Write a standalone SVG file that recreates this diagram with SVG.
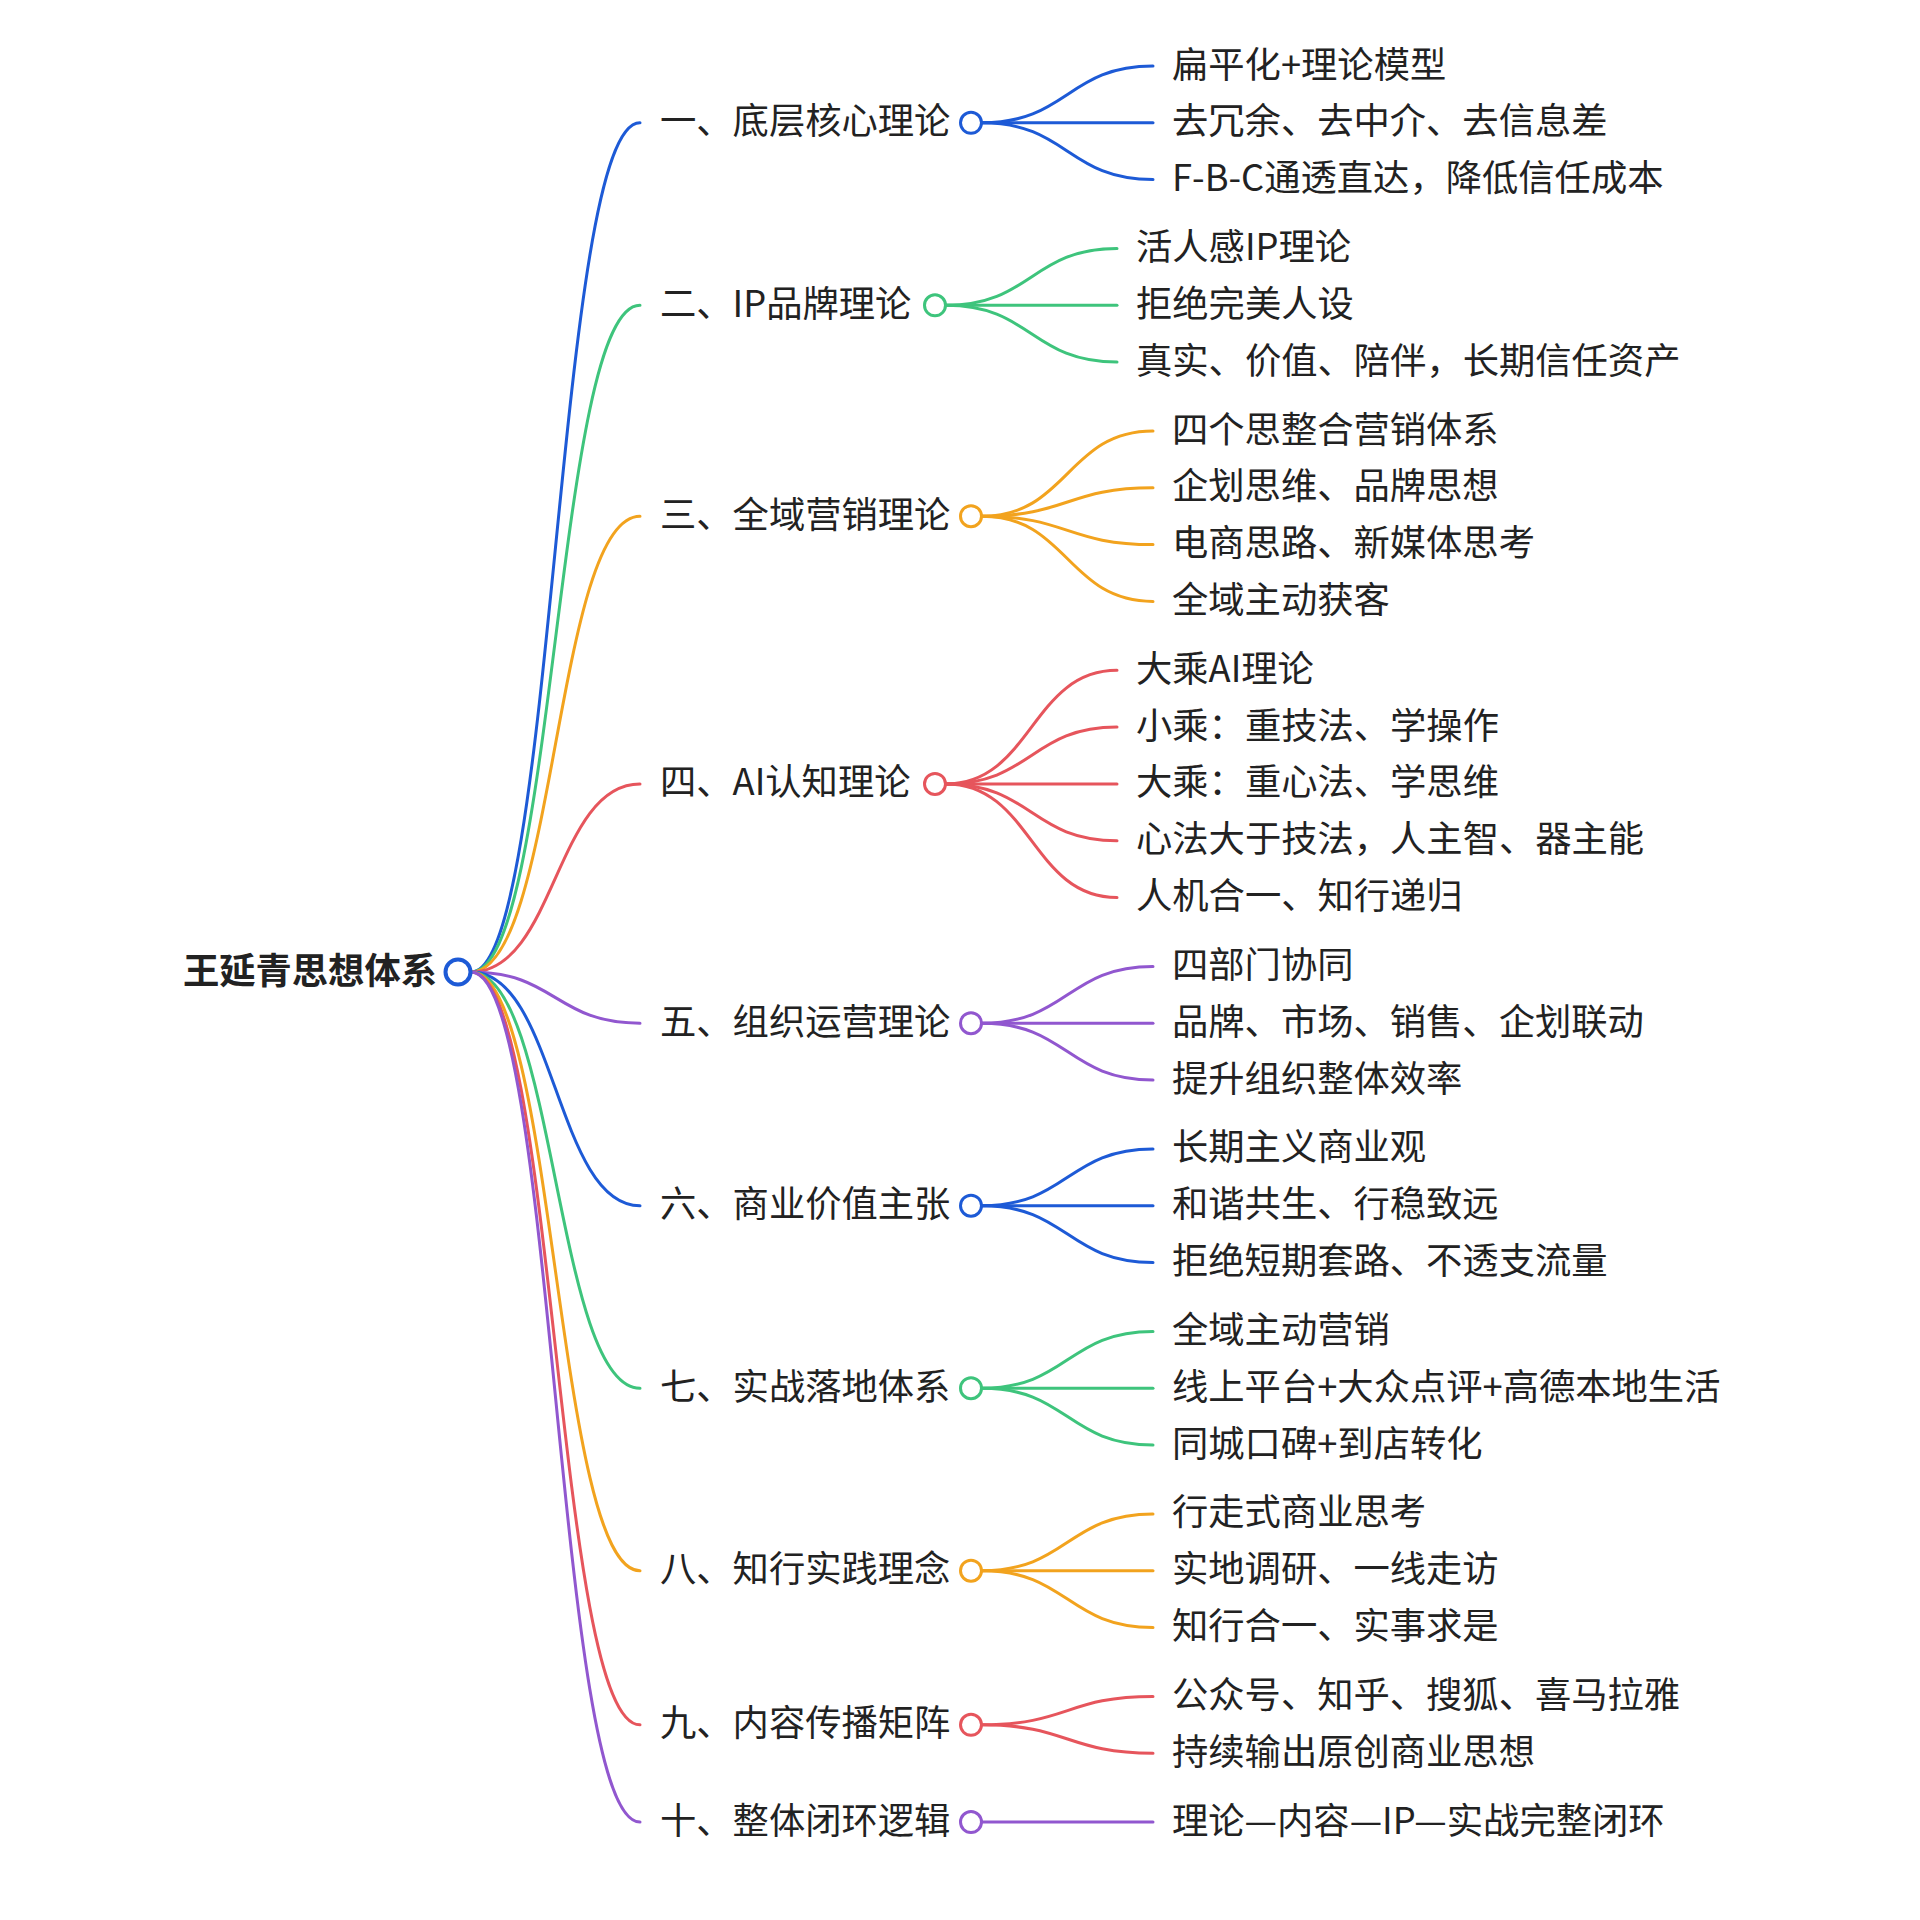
<svg xmlns="http://www.w3.org/2000/svg" width="1920" height="1920" viewBox="0 0 1920 1920">
<style>
text{font-family:"Noto Sans CJK SC","Noto Sans",sans-serif;font-size:36.3px;fill:#222;}
.root{font-weight:bold;}
path{fill:none;stroke-width:3;stroke-linecap:round;}
circle{fill:#fff;stroke-width:3;}
.blue{stroke:#1d5ad6;}
.green{stroke:#3ec47c;}
.orange{stroke:#f2a31e;}
.red{stroke:#e6555c;}
.purple{stroke:#9157cf;}
</style>
<rect width="1920" height="1920" fill="#fff"/>
<g id="connectors">
<path class="blue" d="M471 972 C555.5 972 555.5 122.8 640 122.8"/>
<path class="green" d="M471 972 C555.5 972 555.5 305.3 640 305.3"/>
<path class="orange" d="M471 972 C555.5 972 555.5 516.2 640 516.2"/>
<path class="red" d="M471 972 C555.5 972 555.5 783.9 640 783.9"/>
<path class="purple" d="M471 972 C555.5 972 555.5 1023.2 640 1023.2"/>
<path class="blue" d="M471 972 C555.5 972 555.5 1205.7 640 1205.7"/>
<path class="green" d="M471 972 C555.5 972 555.5 1388.2 640 1388.2"/>
<path class="orange" d="M471 972 C555.5 972 555.5 1570.7 640 1570.7"/>
<path class="red" d="M471 972 C555.5 972 555.5 1724.8 640 1724.8"/>
<path class="purple" d="M471 972 C555.5 972 555.5 1822.1 640 1822.1"/>

<path class="blue" d="M982 122.8 C1067.5 122.8 1067.5 66 1153 66"/>
<path class="blue" d="M982 122.8 L1153 122.8"/>
<path class="blue" d="M982 122.8 C1067.5 122.8 1067.5 179.6 1153 179.6"/>

<path class="green" d="M946 305.3 C1031.5 305.3 1031.5 248.5 1117 248.5"/>
<path class="green" d="M946 305.3 L1117 305.3"/>
<path class="green" d="M946 305.3 C1031.5 305.3 1031.5 362.1 1117 362.1"/>

<path class="orange" d="M982 516.2 C1067.5 516.2 1067.5 431 1153 431"/>
<path class="orange" d="M982 516.2 C1067.5 516.2 1067.5 487.8 1153 487.8"/>
<path class="orange" d="M982 516.2 C1067.5 516.2 1067.5 544.6 1153 544.6"/>
<path class="orange" d="M982 516.2 C1067.5 516.2 1067.5 601.4 1153 601.4"/>

<path class="red" d="M946 783.9 C1031.5 783.9 1031.5 670.3 1117 670.3"/>
<path class="red" d="M946 783.9 C1031.5 783.9 1031.5 727.1 1117 727.1"/>
<path class="red" d="M946 783.9 L1117 783.9"/>
<path class="red" d="M946 783.9 C1031.5 783.9 1031.5 840.7 1117 840.7"/>
<path class="red" d="M946 783.9 C1031.5 783.9 1031.5 897.5 1117 897.5"/>

<path class="purple" d="M982 1023.2 C1067.5 1023.2 1067.5 966.4 1153 966.4"/>
<path class="purple" d="M982 1023.2 L1153 1023.2"/>
<path class="purple" d="M982 1023.2 C1067.5 1023.2 1067.5 1080 1153 1080"/>

<path class="blue" d="M982 1205.7 C1067.5 1205.7 1067.5 1148.9 1153 1148.9"/>
<path class="blue" d="M982 1205.7 L1153 1205.7"/>
<path class="blue" d="M982 1205.7 C1067.5 1205.7 1067.5 1262.5 1153 1262.5"/>

<path class="green" d="M982 1388.2 C1067.5 1388.2 1067.5 1331.4 1153 1331.4"/>
<path class="green" d="M982 1388.2 L1153 1388.2"/>
<path class="green" d="M982 1388.2 C1067.5 1388.2 1067.5 1445 1153 1445"/>

<path class="orange" d="M982 1570.7 C1067.5 1570.7 1067.5 1513.9 1153 1513.9"/>
<path class="orange" d="M982 1570.7 L1153 1570.7"/>
<path class="orange" d="M982 1570.7 C1067.5 1570.7 1067.5 1627.5 1153 1627.5"/>

<path class="red" d="M982 1724.8 C1067.5 1724.8 1067.5 1696.4 1153 1696.4"/>
<path class="red" d="M982 1724.8 C1067.5 1724.8 1067.5 1753.2 1153 1753.2"/>

<path class="purple" d="M982 1822.1 L1153 1822.1"/>
</g>

<g id="root">
<text class="root" x="437" y="983.5" text-anchor="end">王延青思想体系</text>
<circle class="blue" cx="458" cy="972" r="12.5" style="stroke-width:4"/>
</g>

<g id="b1">
<text x="660" y="134.3">一、底层核心理论</text>
<circle class="blue" cx="971" cy="122.8" r="10.5"/>
<text x="1172" y="77.5">扁平化+理论模型</text>
<text x="1172" y="134.3">去冗余、去中介、去信息差</text>
<text x="1172" y="191.1">F-B-C通透直达，降低信任成本</text>
</g>

<g id="b2">
<text x="660" y="316.8">二、IP品牌理论</text>
<circle class="green" cx="935" cy="305.3" r="10.5"/>
<text x="1136" y="260">活人感IP理论</text>
<text x="1136" y="316.8">拒绝完美人设</text>
<text x="1136" y="373.6">真实、价值、陪伴，长期信任资产</text>
</g>

<g id="b3">
<text x="660" y="527.7">三、全域营销理论</text>
<circle class="orange" cx="971" cy="516.2" r="10.5"/>
<text x="1172" y="442.5">四个思整合营销体系</text>
<text x="1172" y="499.3">企划思维、品牌思想</text>
<text x="1172" y="556.1">电商思路、新媒体思考</text>
<text x="1172" y="612.9">全域主动获客</text>
</g>

<g id="b4">
<text x="660" y="795.4">四、AI认知理论</text>
<circle class="red" cx="935" cy="783.9" r="10.5"/>
<text x="1136" y="681.8">大乘AI理论</text>
<text x="1136" y="738.6">小乘：重技法、学操作</text>
<text x="1136" y="795.4">大乘：重心法、学思维</text>
<text x="1136" y="852.2">心法大于技法，人主智、器主能</text>
<text x="1136" y="909">人机合一、知行递归</text>
</g>

<g id="b5">
<text x="660" y="1034.7">五、组织运营理论</text>
<circle class="purple" cx="971" cy="1023.2" r="10.5"/>
<text x="1172" y="977.9">四部门协同</text>
<text x="1172" y="1034.7">品牌、市场、销售、企划联动</text>
<text x="1172" y="1091.5">提升组织整体效率</text>
</g>

<g id="b6">
<text x="660" y="1217.2">六、商业价值主张</text>
<circle class="blue" cx="971" cy="1205.7" r="10.5"/>
<text x="1172" y="1160.4">长期主义商业观</text>
<text x="1172" y="1217.2">和谐共生、行稳致远</text>
<text x="1172" y="1274">拒绝短期套路、不透支流量</text>
</g>

<g id="b7">
<text x="660" y="1399.7">七、实战落地体系</text>
<circle class="green" cx="971" cy="1388.2" r="10.5"/>
<text x="1172" y="1342.9">全域主动营销</text>
<text x="1172" y="1399.7">线上平台+大众点评+高德本地生活</text>
<text x="1172" y="1456.5">同城口碑+到店转化</text>
</g>

<g id="b8">
<text x="660" y="1582.2">八、知行实践理念</text>
<circle class="orange" cx="971" cy="1570.7" r="10.5"/>
<text x="1172" y="1525.4">行走式商业思考</text>
<text x="1172" y="1582.2">实地调研、一线走访</text>
<text x="1172" y="1639">知行合一、实事求是</text>
</g>

<g id="b9">
<text x="660" y="1736.3">九、内容传播矩阵</text>
<circle class="red" cx="971" cy="1724.8" r="10.5"/>
<text x="1172" y="1707.9">公众号、知乎、搜狐、喜马拉雅</text>
<text x="1172" y="1764.7">持续输出原创商业思想</text>
</g>

<g id="b10">
<text x="660" y="1833.6">十、整体闭环逻辑</text>
<circle class="purple" cx="971" cy="1822.1" r="10.5"/>
<text x="1172" y="1833.6">理论—内容—IP—实战完整闭环</text>
</g>
</svg>
